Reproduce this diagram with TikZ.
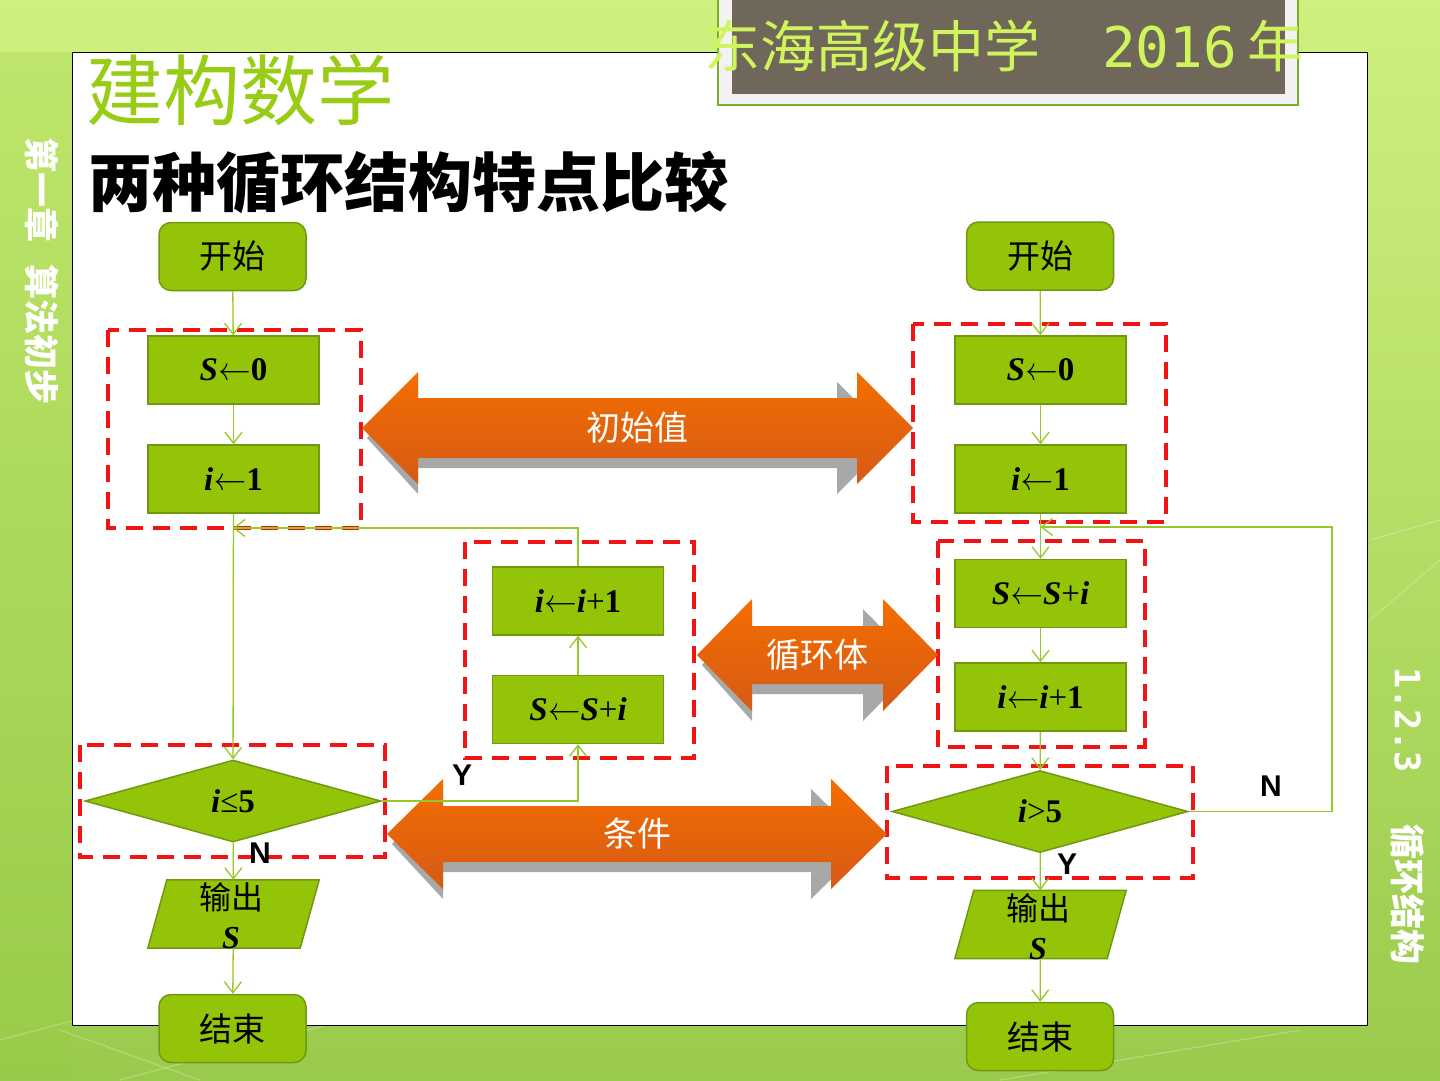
\documentclass[tikz,border=0pt]{standalone}
\usepackage{fontspec}
\usetikzlibrary{shapes.geometric,arrows.meta,calc}
\setmainfont{Liberation Serif}
\newfontfamily\cjk{Noto Sans CJK SC}
\newfontfamily\sansf{Liberation Sans}
\newfontfamily\monof{DejaVu Sans Mono}
\newfontfamily\lmr{lmroman10-regular.otf}
\definecolor{boxgreen}{RGB}{148,196,8}
\definecolor{boxborder}{RGB}{112,152,18}
\definecolor{linegreen}{RGB}{150,200,40}
\definecolor{dashred}{RGB}{240,20,20}
\definecolor{titlebg}{RGB}{111,103,89}
\definecolor{titletxt}{RGB}{208,245,92}
\definecolor{brandgreen}{RGB}{153,204,20}
\definecolor{orangetop}{RGB}{244,110,0}
\definecolor{orangebot}{RGB}{214,90,22}
\definecolor{shadowgray}{RGB}{168,168,168}
\definecolor{bgtop}{RGB}{206,240,126}
\definecolor{bgbot}{RGB}{154,202,76}
\definecolor{stripgreen}{RGB}{150,205,60}
\definecolor{titleframe}{RGB}{120,176,40}
\definecolor{titlepale}{RGB}{242,242,242}
\newcommand\myS{\textbf{\textit{S}}}
\newcommand\myi{\textbf{\textit{i}}}
\newcommand\larr{{\lmr ←}}
\newcommand\dblarrow[8]{%
 % #1 left tip x, #2 right tip x, #3 center y, #4 head half height, #5 shaft half height, #6 head length, #7 name, #8 label
 \fill[shadowgray] ({#1+5},{#3+10}) -- ({#1+#6},{#3+10-#4}) -- ({#1+#6},{#3+10-#5}) -- ({#2-20-#6},{#3+10-#5}) -- ({#2-20-#6},{#3+10-#4}) -- ({#2-20},{#3+10}) -- ({#2-20-#6},{#3+10+#4}) -- ({#2-20-#6},{#3+10+#5}) -- ({#1+#6},{#3+10+#5}) -- ({#1+#6},{#3+10+#4}) -- cycle;
 \shade[top color=orangetop, bottom color=orangebot] (#1,#3) -- ({#1+#6},{#3-#4}) -- ({#1+#6},{#3-#5}) -- ({#2-#6},{#3-#5}) -- ({#2-#6},{#3-#4}) -- (#2,#3) -- ({#2-#6},{#3+#4}) -- ({#2-#6},{#3+#5}) -- ({#1+#6},{#3+#5}) -- ({#1+#6},{#3+#4}) -- cycle;
 \node[arrowtxt] (#7) at ({(#1+#2)/2},#3) {#8};
}
\tikzset{
 proc/.style={draw=boxborder, fill=boxgreen, line width=1.5pt, minimum width=171pt, minimum height=68pt, inner sep=0pt, font=\fontsize{33}{36}\selectfont},
 term/.style={proc, rounded corners=12pt, minimum width=147pt, font=\cjk\fontsize{33}{36}\selectfont},
 dec/.style={diamond, draw=boxborder, fill=boxgreen, line width=1.5pt, minimum width=296pt, minimum height=82pt, inner sep=0pt, aspect=3.6, font=\fontsize{33}{36}\selectfont},
 iobox/.style={minimum width=171pt, minimum height=68pt, inner sep=0pt},
 iotext/.style={align=center, inner sep=0pt, font=\fontsize{32}{41}\selectfont},
 conn/.style={draw=linegreen, line width=1.3pt, -{Straight Barb[length=11pt,width=17pt]}},
 redbox/.style={draw=dashred, line width=3.6pt, dash pattern=on 17pt off 10pt},
 yn/.style={font=\sansf\bfseries\fontsize{30}{30}\selectfont},
 arrowtxt/.style={text=white, font=\cjk\fontsize{34}{34}\selectfont},
 sidetxt/.style={text=white, rotate=-90, font=\cjk\bfseries\fontsize{35}{35}\selectfont}
}
\begin{document}
\begin{tikzpicture}[x=1pt,y=-1pt]
\useasboundingbox (0,0) rectangle (1440,1080);
% background
\shade[top color=bgtop, bottom color=bgbot] (0,0) rectangle (1440,1080);
\fill[stripgreen, opacity=0.25] (0,52) rectangle (72,1080);
\begin{scope}[white, opacity=0.25, line width=1.2pt]
 \draw (0,1040) -- (300,960);
 \draw (120,1080) -- (420,1000);
 \draw (1370,620) -- (1440,560);
 \draw (1370,540) -- (1440,520);
 \draw (1000,1080) -- (1300,1030);
 \draw (200,1080) -- (60,1030);
\end{scope}
% white panel
\draw[black, line width=1pt, fill=white] (72,52) rectangle (1367,1025);
% title box
\draw[draw=titleframe, line width=2pt, fill=titlepale] (718,-5) rectangle (1298,105);
\fill[titlebg] (732,-5) rectangle (1285,94);
\node[anchor=west, inner sep=0pt, text=titletxt, font=\cjk\fontsize{56}{56}\selectfont] (title) at (704,46) {东海高级中学　\hspace{6pt}{\monof 2016}\hspace{10pt}年};
\node[anchor=west, inner sep=0pt, text=brandgreen, font=\cjk\fontsize{77}{77}\selectfont] (brand) at (86,90) {建构数学};
\node[anchor=west, inner sep=0pt, text=black, font=\cjk\bfseries\fontsize{64}{64}\selectfont] (heading) at (88,182) {两种循环结构特点比较};
% side texts
\node[sidetxt, anchor=west] (sideL) at (42,134) {第一章\hspace{22pt}算法初步};
\node[sidetxt, anchor=west] (sideR) at (1408,664) {{\monof\bfseries 1.2.3}\hspace{52pt}循环结构};
% red dashed boxes
\draw[redbox] (108,330) rectangle (361,528);
\draw[redbox] (465,542) rectangle (694,758);
\draw[redbox] (80,745) rectangle (385,857);
\draw[redbox] (913,324) rectangle (1166,522);
\draw[redbox] (938,541) rectangle (1145,747);
\draw[redbox] (887,766) rectangle (1193,878);
% orange arrows
\dblarrow{362}{913}{428}{56}{30}{56}{lblInit}{初始值}
\dblarrow{697}{938}{655}{56}{29}{55}{lblBody}{循环体}
\dblarrow{387}{887}{834}{55}{28}{56}{lblCond}{条件}
% left flowchart
\node[term] (startL) at (232.5,256.5) {开始};
\node[proc] (s0L) at (233.5,370) {\myS\larr\textbf{0}};
\node[proc] (i1L) at (233.5,479) {\myi\larr\textbf{1}};
\node[proc] (incL) at (578,601) {\myi\larr\myi+\textbf{1}};
\node[proc] (sumL) at (578,709.5) {\myS\larr\myS+\myi};
\node[dec] (decL) at (233,801) {\myi≤\textbf{5}};
\node[iobox] (outL) at (233.5,914) {};
\fill[boxgreen, draw=boxborder, line width=1.5pt] ($(outL.north west)+(19,0)$) -- (outL.north east) -- ($(outL.south east)+(-19,0)$) -- (outL.south west) -- cycle;
\node[iotext] (outLt) at (231,916) {{\cjk 输出}\\[-2pt]\myS};
\node[term] (endL) at (232.5,1028.5) {结束};
\coordinate (joinL) at (233,528);
\draw[conn] (startL) -- (s0L);
\draw[conn] (s0L) -- (i1L);
\draw[conn] (i1L) -- (decL);
\draw[conn] (incL.north) |- (joinL);
\draw[conn] (decL.east) -| (sumL.south);
\draw[conn] (sumL) -- (incL);
\draw[conn] (decL) -- (outL);
\draw[conn] (outL) -- (endL);
\node[yn] (yL) at (462,775) {Y};
\node[yn] (nL) at (260,853) {N};
% right flowchart
\node[term] (startR) at (1040,256) {开始};
\node[proc] (s0R) at (1040.5,370) {\myS\larr\textbf{0}};
\node[proc] (i1R) at (1040.5,479) {\myi\larr\textbf{1}};
\node[proc] (sumR) at (1040.5,593.5) {\myS\larr\myS+\myi};
\node[proc] (incR) at (1040.5,697) {\myi\larr\myi+\textbf{1}};
\node[dec] (decR) at (1040,811.5) {\myi>\textbf{5}};
\node[iobox] (outR) at (1040.5,924.5) {};
\fill[boxgreen, draw=boxborder, line width=1.5pt] ($(outR.north west)+(19,0)$) -- (outR.north east) -- ($(outR.south east)+(-19,0)$) -- (outR.south west) -- cycle;
\node[iotext] (outRt) at (1038,927) {{\cjk 输出}\\[-2pt]\myS};
\node[term] (endR) at (1040,1036.5) {结束};
\coordinate (joinR) at (1040.5,527);
\coordinate (cornR) at (1332,527);
\draw[conn] (startR) -- (s0R);
\draw[conn] (s0R) -- (i1R);
\draw[conn] (i1R) -- (sumR);
\draw[conn] (sumR) -- (incR);
\draw[conn] (incR) -- (decR);
\draw[conn] (decR.east) -| (cornR) -- (joinR);
\draw[conn] (decR) -- (outR);
\draw[conn] (outR) -- (endR);
\node[yn] (nR) at (1271,786) {N};
\node[yn] (yR) at (1067,864) {Y};
\end{tikzpicture}
\end{document}
